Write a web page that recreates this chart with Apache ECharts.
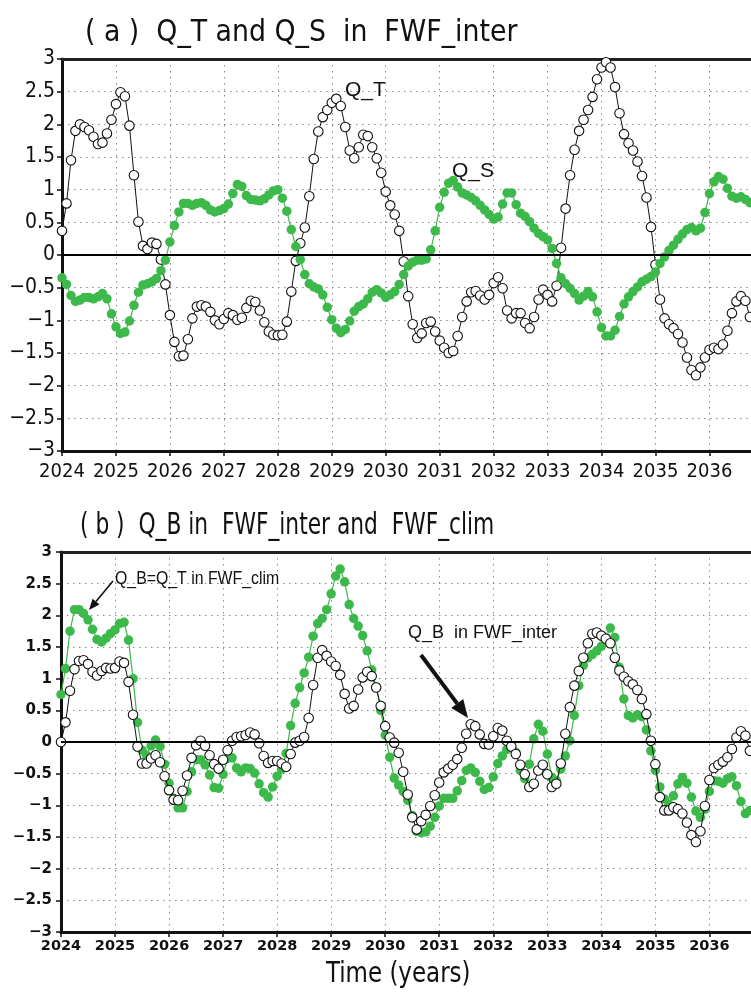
<!DOCTYPE html>
<html>
<head>
<meta charset="utf-8">
<script src="https://cdn.jsdelivr.net/npm/echarts@6/dist/echarts.min.js"></script>
<style>
  html, body { margin: 0; padding: 0; background: #fff; }
  #chart { width: 751px; height: 992px; }
</style>
</head>
<body>
<div id="chart"></div>
<script>
// Monthly series starting January 2024
const START_YEAR = 2024;
const END_YEAR = 2036.77;

const qT = [
  0.37, 0.79, 1.45, 1.90, 2.00, 1.96, 1.91, 1.81, 1.70, 1.72, 1.86, 2.07,
  2.31, 2.49, 2.43, 1.98, 1.22, 0.51, 0.14, 0.09, 0.19, 0.17, -0.07, -0.45,
  -0.92, -1.33, -1.55, -1.54, -1.29, -0.97, -0.79, -0.77, -0.79, -0.87, -1.00, -1.06,
  -0.98, -0.89, -0.92, -0.99, -0.96, -0.81, -0.70, -0.72, -0.85, -1.03, -1.17, -1.22,
  -1.23, -1.22, -1.02, -0.56, -0.09, 0.18, 0.42, 0.90, 1.47, 1.89, 2.11, 2.22,
  2.33, 2.39, 2.28, 1.96, 1.60, 1.48, 1.65, 1.84, 1.82, 1.65, 1.48, 1.26,
  0.97, 0.76, 0.62, 0.37, -0.10, -0.63, -1.06, -1.27, -1.20, -1.04, -1.02, -1.17,
  -1.31, -1.42, -1.50, -1.47, -1.24, -0.95, -0.71, -0.57, -0.55, -0.62, -0.68, -0.61,
  -0.43, -0.34, -0.51, -0.85, -0.97, -0.89, -0.89, -1.04, -1.12, -0.95, -0.68, -0.53,
  -0.61, -0.71, -0.47, 0.11, 0.71, 1.22, 1.61, 1.90, 2.07, 2.22, 2.42, 2.69,
  2.87, 2.95, 2.87, 2.57, 2.17, 1.85, 1.71, 1.60, 1.43, 1.21, 0.88, 0.43,
  -0.15, -0.68, -0.97, -1.06, -1.12, -1.21, -1.34, -1.57, -1.76, -1.84, -1.72, -1.57,
  -1.45, -1.42, -1.44, -1.37, -1.16, -0.89, -0.71, -0.63, -0.70, -0.95
];

const qS = [
  -0.35, -0.45, -0.62, -0.71, -0.69, -0.65, -0.65, -0.67, -0.64, -0.59, -0.67, -0.90,
  -1.10, -1.20, -1.18, -1.01, -0.77, -0.57, -0.46, -0.44, -0.41, -0.36, -0.24, -0.08,
  0.20, 0.45, 0.66, 0.79, 0.79, 0.76, 0.79, 0.80, 0.76, 0.69, 0.66, 0.68,
  0.71, 0.78, 0.94, 1.08, 1.05, 0.91, 0.85, 0.84, 0.83, 0.86, 0.92, 0.98,
  1.00, 0.87, 0.67, 0.39, 0.13, -0.07, -0.30, -0.44, -0.49, -0.52, -0.61, -0.80,
  -0.99, -1.12, -1.19, -1.14, -1.01, -0.86, -0.79, -0.75, -0.67, -0.57, -0.53, -0.58,
  -0.65, -0.61, -0.56, -0.45, -0.30, -0.17, -0.11, -0.08, -0.08, -0.06, 0.08, 0.37,
  0.73, 0.96, 1.10, 1.14, 1.04, 0.95, 0.92, 0.88, 0.83, 0.76, 0.69, 0.62,
  0.55, 0.58, 0.78, 0.95, 0.95, 0.77, 0.64, 0.59, 0.51, 0.41, 0.33, 0.28,
  0.23, 0.10, -0.13, -0.35, -0.44, -0.51, -0.59, -0.69, -0.63, -0.56, -0.64, -0.87,
  -1.11, -1.24, -1.24, -1.15, -0.94, -0.75, -0.64, -0.56, -0.49, -0.41, -0.37, -0.33,
  -0.26, -0.13, -0.03, 0.07, 0.15, 0.24, 0.32, 0.39, 0.42, 0.37, 0.41, 0.65,
  0.94, 1.12, 1.20, 1.16, 1.02, 0.90, 0.87, 0.89, 0.85, 0.80
];

const qBInter = [
  0.00, 0.31, 0.81, 1.15, 1.28, 1.29, 1.23, 1.11, 1.05, 1.12, 1.17, 1.16,
  1.17, 1.27, 1.25, 0.95, 0.43, -0.07, -0.34, -0.34, -0.26, -0.21, -0.32, -0.54,
  -0.76, -0.91, -0.92, -0.77, -0.53, -0.25, -0.05, 0.02, -0.06, -0.21, -0.35, -0.42,
  -0.28, -0.13, 0.02, 0.08, 0.09, 0.11, 0.15, 0.12, -0.02, -0.22, -0.33, -0.30,
  -0.30, -0.34, -0.39, -0.19, -0.01, 0.02, 0.08, 0.38, 0.90, 1.33, 1.45, 1.36,
  1.27, 1.20, 1.06, 0.76, 0.53, 0.57, 0.83, 1.02, 1.11, 1.04, 0.86, 0.57,
  0.25, 0.07, -0.01, -0.17, -0.47, -0.83, -1.19, -1.38, -1.25, -1.15, -1.01, -0.84,
  -0.64, -0.48, -0.42, -0.36, -0.27, -0.09, 0.13, 0.28, 0.25, 0.12, -0.03, -0.04,
  0.09, 0.22, 0.18, 0.02, -0.07, -0.19, -0.36, -0.51, -0.71, -0.66, -0.45, -0.36,
  -0.51, -0.71, -0.66, -0.34, 0.13, 0.55, 0.89, 1.12, 1.33, 1.56, 1.71, 1.73,
  1.68, 1.63, 1.56, 1.33, 1.13, 1.03, 0.96, 0.91, 0.82, 0.68, 0.44, 0.02,
  -0.35, -0.87, -1.08, -1.08, -1.03, -1.06, -1.13, -1.27, -1.47, -1.58, -1.41, -1.01,
  -0.60, -0.41, -0.36, -0.31, -0.24, -0.11, 0.07, 0.17, 0.10, -0.14
];

const qBClim = [
  0.75, 1.16, 1.75, 2.09, 2.09, 2.03, 1.93, 1.78, 1.62, 1.58, 1.64, 1.71,
  1.77, 1.87, 1.89, 1.61, 1.00, 0.31, -0.13, -0.21, -0.06, 0.03, -0.07, -0.35,
  -0.65, -0.89, -1.04, -1.04, -0.78, -0.47, -0.28, -0.28, -0.36, -0.52, -0.72, -0.73,
  -0.51, -0.26, -0.25, -0.41, -0.47, -0.41, -0.42, -0.49, -0.66, -0.80, -0.87, -0.71,
  -0.54, -0.43, -0.18, 0.26, 0.61, 0.86, 1.09, 1.34, 1.67, 1.87, 1.95, 2.09,
  2.34, 2.62, 2.73, 2.53, 2.17, 1.95, 1.83, 1.68, 1.44, 1.14, 0.87, 0.50,
  0.11, -0.24, -0.57, -0.68, -0.78, -0.92, -1.16, -1.41, -1.43, -1.42, -1.33, -1.19,
  -1.01, -0.89, -0.89, -0.89, -0.77, -0.61, -0.45, -0.41, -0.48, -0.62, -0.75, -0.72,
  -0.55, -0.34, -0.22, -0.12, -0.06, -0.16, -0.45, -0.58, -0.35, 0.05, 0.28, 0.17,
  -0.19, -0.56, -0.61, -0.43, -0.22, 0.02, 0.42, 0.89, 1.21, 1.33, 1.38, 1.44,
  1.51, 1.65, 1.80, 1.65, 1.18, 0.68, 0.42, 0.38, 0.43, 0.40, 0.19, -0.14,
  -0.45, -0.71, -0.90, -0.98, -0.85, -0.66, -0.56, -0.65, -0.87, -1.09, -1.19, -1.06,
  -0.78, -0.61, -0.62, -0.65, -0.58, -0.55, -0.69, -0.94, -1.13, -1.08
];

const yearLabels = ['2024', '2025', '2026', '2027', '2028', '2029', '2030',
                    '2031', '2032', '2033', '2034', '2035', '2036'];
const yTickLabels = ['\u22123', '\u22122.5', '\u22122', '\u22121.5', '\u22121', '\u22120.5',
                     '0', '0.5', '1', '1.5', '2', '2.5', '3'];

const GREEN = '#3cb94a';
const NARROW = '"Liberation Sans Narrow", "DejaVu Sans Condensed", "Arial Narrow", sans-serif';
const PLAIN = '"Liberation Sans", Arial, sans-serif';
const WIDE = '"DejaVu Sans", Verdana, sans-serif';

function monthly(values) {
  return values.map((v, i) => [START_YEAR + i / 12, v]);
}

function yearText(v) {
  const k = Math.round(v - START_YEAR);
  return Math.abs(v - START_YEAR - k) < 1e-6 ? (yearLabels[k] || '') : '';
}
function yText(v) {
  return yTickLabels[Math.round((v + 3) * 2)] || '';
}

const gridLine = { show: true, lineStyle: { color: '#8a8a8a', width: 1, type: [1.5, 4.5] } };

function xAxes(gridIndex, labelFont) {
  return [
    {
      type: 'value', gridIndex, min: START_YEAR, max: END_YEAR, interval: 1,
      position: 'bottom',
      axisLine: { show: true, onZero: false, lineStyle: { color: '#111', width: 3 } },
      axisTick: { show: true, length: 5, lineStyle: { color: '#111', width: 1.5 } },
      axisLabel: Object.assign({ formatter: yearText, showMaxLabel: false, color: '#111' }, labelFont),
      splitLine: gridLine
    },
    {
      type: 'value', gridIndex, min: START_YEAR, max: END_YEAR, position: 'top',
      axisLine: { show: true, onZero: false, lineStyle: { color: '#222', width: 3 } },
      axisTick: { show: false }, axisLabel: { show: false }, splitLine: { show: false }
    }
  ];
}

function yAxis(gridIndex, labelFont) {
  return {
    type: 'value', gridIndex, min: -3, max: 3, interval: 0.5,
    axisLine: { show: true, onZero: false, lineStyle: { color: '#111', width: 3 } },
    axisTick: { show: true, length: 5, lineStyle: { color: '#111', width: 1.5 } },
    axisLabel: Object.assign({ formatter: yText, color: '#111' }, labelFont),
    splitLine: gridLine
  };
}

const zeroLine = {
  silent: true, symbol: ['none', 'none'],
  label: { show: false },
  lineStyle: { color: '#000', width: 2, type: 'solid' },
  data: [{ yAxis: 0 }]
};

function hollowSeries(values, axisIdx, z, extra) {
  return Object.assign({
    type: 'line', xAxisIndex: axisIdx, yAxisIndex: axisIdx / 2, data: monthly(values),
    symbol: 'circle', symbolSize: 9.5, z,
    lineStyle: { color: '#111', width: 1 },
    itemStyle: { color: '#fff', borderColor: '#111', borderWidth: 1.1 },
    animation: false
  }, extra || {});
}
function filledSeries(values, axisIdx, z, extra) {
  return Object.assign({
    type: 'line', xAxisIndex: axisIdx, yAxisIndex: axisIdx / 2, data: monthly(values),
    symbol: 'circle', symbolSize: 9.5, z,
    lineStyle: { color: GREEN, width: 1.2 },
    itemStyle: { color: GREEN, borderWidth: 0 },
    animation: false
  }, extra || {});
}

// Arrow shape: shaft plus filled head, in page pixels
function arrow(x1, y1, x2, y2, width, headLen, headW) {
  const dx = x2 - x1, dy = y2 - y1, len = Math.hypot(dx, dy);
  const ux = dx / len, uy = dy / len, px = -uy, py = ux;
  const bx = x2 - ux * headLen, by = y2 - uy * headLen;
  return [
    { type: 'line', shape: { x1, y1, x2: bx, y2: by }, style: { stroke: '#111', lineWidth: width }, z: 50 },
    { type: 'polygon', shape: { points: [[x2, y2], [bx + px * headW / 2, by + py * headW / 2], [bx - px * headW / 2, by - py * headW / 2]] },
      style: { fill: '#111' }, z: 50 }
  ];
}

function label(text, x, y, size, family, sx) {
  return { type: 'text', x, y, scaleX: sx || 1, z: 60,
    style: { text, fill: '#111', fontSize: size, fontFamily: family,
             align: 'left', verticalAlign: 'top' } };
}

const chart = echarts.init(document.getElementById('chart'), null, { renderer: 'canvas' });

const fontA = { fontFamily: NARROW, fontSize: 21 };
const fontAx = { fontFamily: NARROW, fontSize: 20, margin: 11 };
const fontB = { fontFamily: WIDE, fontSize: 15, fontWeight: 'bold' };
const fontBx = { fontFamily: WIDE, fontSize: 14.5, fontWeight: 'bold', margin: 7 };

chart.setOption({
  backgroundColor: '#fff',
  animation: false,
  grid: [
    { left: 62, top: 59, right: 0, height: 392 },
    { left: 61, top: 552, right: 0, height: 380 }
  ],
  xAxis: [].concat(xAxes(0, fontAx), xAxes(1, fontBx)),
  yAxis: [
    yAxis(0, Object.assign({ margin: 7 }, fontA)),
    yAxis(1, Object.assign({ margin: 9 }, fontB))
  ],
  series: [
    hollowSeries(qT, 0, 3, { name: 'Q_T', markLine: zeroLine }),
    filledSeries(qS, 0, 4, { name: 'Q_S' }),
    filledSeries(qBClim, 2, 3, { name: 'Q_B clim', markLine: zeroLine }),
    hollowSeries(qBInter, 2, 4, { name: 'Q_B inter' })
  ],
  graphic: [].concat(
    [
      label('( a )  Q_T and Q_S  in  FWF_inter', 85, 17, 31, NARROW, 0.96),
      label('( b )  Q_B in  FWF_inter and  FWF_clim', 80, 510, 31, NARROW, 0.78),
      label('Time (years)', 326, 960, 29, NARROW, 0.88),
      label('Q_T', 345, 80, 21, PLAIN),
      label('Q_S', 452, 161, 21, PLAIN),
      label('Q_B=Q_T in FWF_clim', 115, 570, 18, PLAIN, 0.88),
      label('Q_B  in FWF_inter', 408, 624, 18, PLAIN)
    ],
    arrow(113, 581, 89, 610, 1.6, 11, 9),
    arrow(421, 655, 468, 718, 4, 18, 15)
  )
});
</script>
</body>
</html>
